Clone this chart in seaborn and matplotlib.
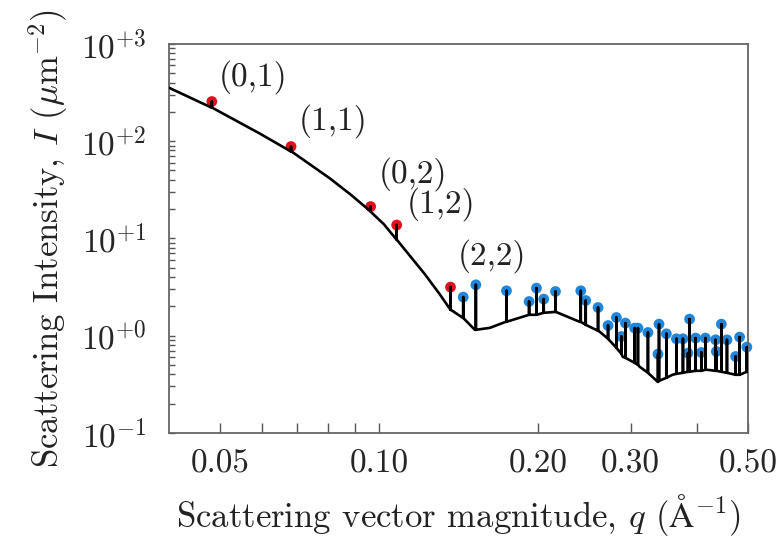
import numpy as np
import pandas as pd
import seaborn as sns
import matplotlib.pyplot as plt
from matplotlib.ticker import FixedLocator, LogLocator, NullFormatter

# smooth background curve (q in 1/A, intensity in 1/um^2)
base_q = [0.040, 0.0483, 0.0545, 0.0595, 0.0684, 0.0807, 0.0881, 0.0965, 0.1022,
          0.1081, 0.1222, 0.1304, 0.1368, 0.1442, 0.1519, 0.1622, 0.1739, 0.1931,
          0.2164, 0.240, 0.262, 0.2897, 0.312, 0.3376, 0.360, 0.418, 0.4824, 0.500]
base_I = [353, 220, 154, 119, 77.5, 41.3, 28.5, 18.7, 13.9,
          9.65, 4.26, 2.65, 1.84, 1.52, 1.146, 1.20, 1.385, 1.635,
          1.75, 1.385, 1.094, 0.605, 0.477, 0.334, 0.395, 0.445, 0.395, 0.424]

# Bragg peaks: position, peak top, foot of the spike
peak_q = [0.0482, 0.0681, 0.0964, 0.108, 0.1366,
          0.1444, 0.1526, 0.1744, 0.1925, 0.1988, 0.2052, 0.2160, 0.2412, 0.2465,
          0.2601, 0.2717, 0.2818, 0.2880, 0.2931, 0.3052, 0.3096, 0.3234, 0.3379,
          0.3394, 0.3505, 0.3662, 0.3768, 0.3851, 0.3879, 0.3982, 0.4083, 0.4155,
          0.4346, 0.4359, 0.4456, 0.4566, 0.4742, 0.4825, 0.498]
peak_top = [255, 87.9, 21.2, 13.7, 3.15,
            2.485, 3.325, 2.886, 2.239, 3.075, 2.371, 2.838, 2.886, 2.293,
            1.943, 1.268, 1.533, 0.978, 1.343, 1.193, 1.193, 1.075, 0.645,
            1.311, 1.042, 0.926, 0.926, 0.660, 1.476, 0.942, 0.670, 0.942,
            0.904, 0.686, 1.311, 0.904, 0.609, 0.964, 0.761]
peak_foot = [220, 78, 18.9, 9.65, 1.84,
             1.52, 1.146, 1.385, 1.635, 1.635, 1.714, 1.75, 1.385, 1.29,
             1.119, 0.926, 0.748, 0.649, 0.590, 0.524, 0.500, 0.414, 0.334,
             0.342, 0.368, 0.404, 0.414, 0.424, 0.424, 0.434, 0.434, 0.445,
             0.434, 0.434, 0.424, 0.414, 0.395, 0.395, 0.424]
peak_kind = ['indexed'] * 5 + ['other'] * 34

labels = ['(0,1)', '(1,1)', '(0,2)', '(1,2)', '(2,2)']
label_q = [0.0578, 0.0817, 0.1160, 0.1310, 0.1637]
label_I = [452, 162, 46.0, 22.5, 6.5]

sns.set_style('ticks')
plt.rcParams['font.family'] = ['cmr10', 'DejaVu Serif']
plt.rcParams['mathtext.fontset'] = 'cm'
plt.rcParams['axes.formatter.use_mathtext'] = True

# build the black trace: background plus a vertical spike at each peak
rows = [(q, I) for q, I in zip(base_q, base_I)]
for q, top, foot in zip(peak_q, peak_top, peak_foot):
    rows += [(q, foot), (q, top), (q, foot)]
order = sorted(range(len(rows)), key=lambda i: (rows[i][0], i))
trace = pd.DataFrame([rows[i] for i in order], columns=['q', 'I'])
peaks = pd.DataFrame({'q': peak_q, 'I': peak_top, 'kind': peak_kind})

fig, ax = plt.subplots(figsize=(7.83, 5.41), dpi=100)
fig.subplots_adjust(left=0.216, right=0.955, top=0.919, bottom=0.2)

sns.scatterplot(data=peaks, x='q', y='I', hue='kind',
                palette={'indexed': '#e0101c', 'other': '#1f86dc'},
                s=60, linewidth=0, legend=False, ax=ax, zorder=2, clip_on=False)
sns.lineplot(data=trace, x='q', y='I', sort=False, estimator=None,
             color='black', linewidth=1.9, ax=ax, zorder=3)

ax.set_xscale('log')
ax.set_yscale('log')
ax.set_xlim(0.04, 0.5)
ax.set_ylim(0.1, 1000)

ax.set_xticks([0.05, 0.1, 0.2, 0.3, 0.5])
ax.set_xticklabels(['0.05', '0.10', '0.20', '0.30', '0.50'])
ax.xaxis.set_minor_locator(FixedLocator([0.06, 0.07, 0.08, 0.09, 0.4]))
ax.xaxis.set_minor_formatter(NullFormatter())
ax.set_yticks([0.1, 1, 10, 100, 1000])
ax.set_yticklabels([r'$10^{-1}$', r'$10^{+0}$', r'$10^{+1}$', r'$10^{+2}$', r'$10^{+3}$'])
ax.yaxis.set_minor_locator(LogLocator(base=10, subs=np.arange(2, 10)))
ax.yaxis.set_minor_formatter(NullFormatter())

ax.tick_params(axis='x', which='both', direction='in', length=7.5, width=1,
               color='#555555', labelsize=24, pad=12, top=False)
ax.tick_params(axis='y', which='both', direction='in', length=4.3, width=1,
               color='#555555', labelsize=24, pad=16, right=False)
for sp in ax.spines.values():
    sp.set_color('#666666')
    sp.set_linewidth(1.3)

for t, q, I in zip(labels, label_q, label_I):
    ax.text(q, I, t, fontsize=24, ha='center', va='center', color='#222222')

ax.set_xlabel(r'Scattering vector magnitude, $q$ ($\mathrm{\AA}^{-1}$)', fontsize=25,
              color='#222222', labelpad=10)
ax.set_ylabel(r'Scattering Intensity, $I$ ($\mu$m$^{-2}$)', fontsize=25,
              color='#222222', labelpad=8)

fig.savefig('out.png', dpi=100)
